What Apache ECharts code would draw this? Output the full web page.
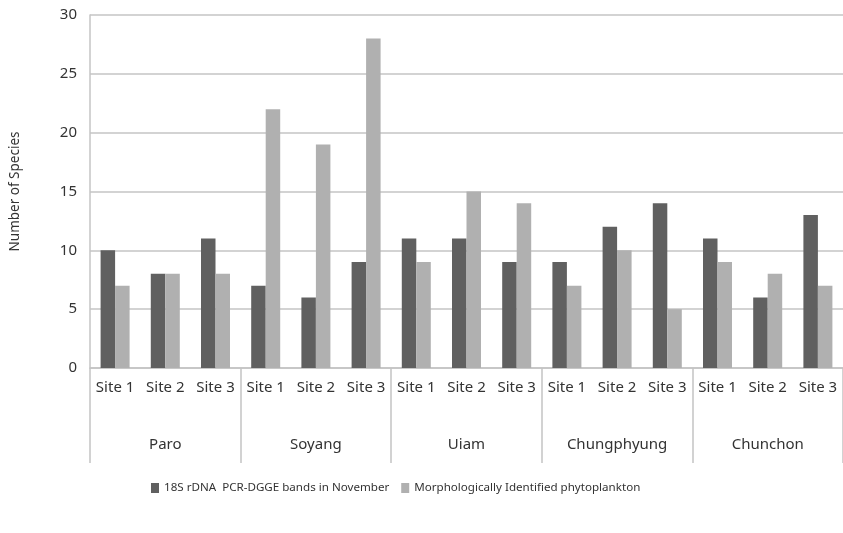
<!DOCTYPE html>
<html><head><meta charset="utf-8">
<script src="https://cdn.jsdelivr.net/npm/echarts@6/dist/echarts.min.js"></script>
<style>html,body{margin:0;padding:0;background:#fff}#c{width:843px;height:533px}</style>
</head><body><div id="c"></div>
<script>
const sites = ['Site 1','Site 2','Site 3','Site 1','Site 2','Site 3','Site 1','Site 2','Site 3','Site 1','Site 2','Site 3','Site 1','Site 2','Site 3'];
const lakes = ['Paro','Soyang','Uiam','Chungphyung','Chunchon'];
const dgge = [10,8,11, 7,6,9, 11,11,9, 9,12,14, 11,6,13];
const morpho = [7,8,8, 22,19,28, 9,15,14, 7,10,5, 9,8,7];
const yTicks = [0,5,10,15,20,25,30];
const seriesNames = ['18S rDNA  PCR-DGGE bands in November','Morphologically Identified phytoplankton'];

const font = 'Noto Sans';
const chart = echarts.init(document.getElementById('c'));
chart.setOption({
  animation:false,
  textStyle:{fontFamily:font},
  grid:{left:90,right:-3,top:15,bottom:165},
  legend:{left:146,top:477,itemWidth:8,itemHeight:10,itemGap:12,icon:'rect',
    textStyle:{fontFamily:font,fontSize:11.6,color:'#333'},data:seriesNames},
  xAxis:[
    {type:'category',data:sites,position:'bottom',
     axisLine:{show:true,lineStyle:{color:'#c4c4c4',width:1.5}},
     axisTick:{show:false},
     axisLabel:{interval:0,margin:12,fontSize:15,color:'#333',fontFamily:font}},
    {type:'category',data:lakes,position:'bottom',
     axisLine:{show:false},
     axisTick:{show:true,length:95,lineStyle:{color:'#c4c4c4',width:1.5}},
     axisLabel:{interval:0,margin:69,fontSize:15,color:'#333',fontFamily:font}}
  ],
  yAxis:{type:'value',min:yTicks[0],max:yTicks[yTicks.length-1],interval:5,
    name:'Number of Species',nameLocation:'middle',nameGap:68,
    nameTextStyle:{fontSize:13.5,color:'#333',fontFamily:font},
    axisLine:{show:true,lineStyle:{color:'#c4c4c4',width:1.5}},
    axisTick:{show:false},
    axisLabel:{margin:13,fontSize:15,color:'#333',fontFamily:font},
    splitLine:{lineStyle:{color:'#c4c4c4',width:1.5}}},
  series:[
    {name:seriesNames[0],type:'bar',data:dgge,barWidth:14.5,barGap:'0%',itemStyle:{color:'#606060'}},
    {name:seriesNames[1],type:'bar',data:morpho,barWidth:14.5,barGap:'0%',itemStyle:{color:'#b0b0b0'}}
  ]
});
</script></body></html>
